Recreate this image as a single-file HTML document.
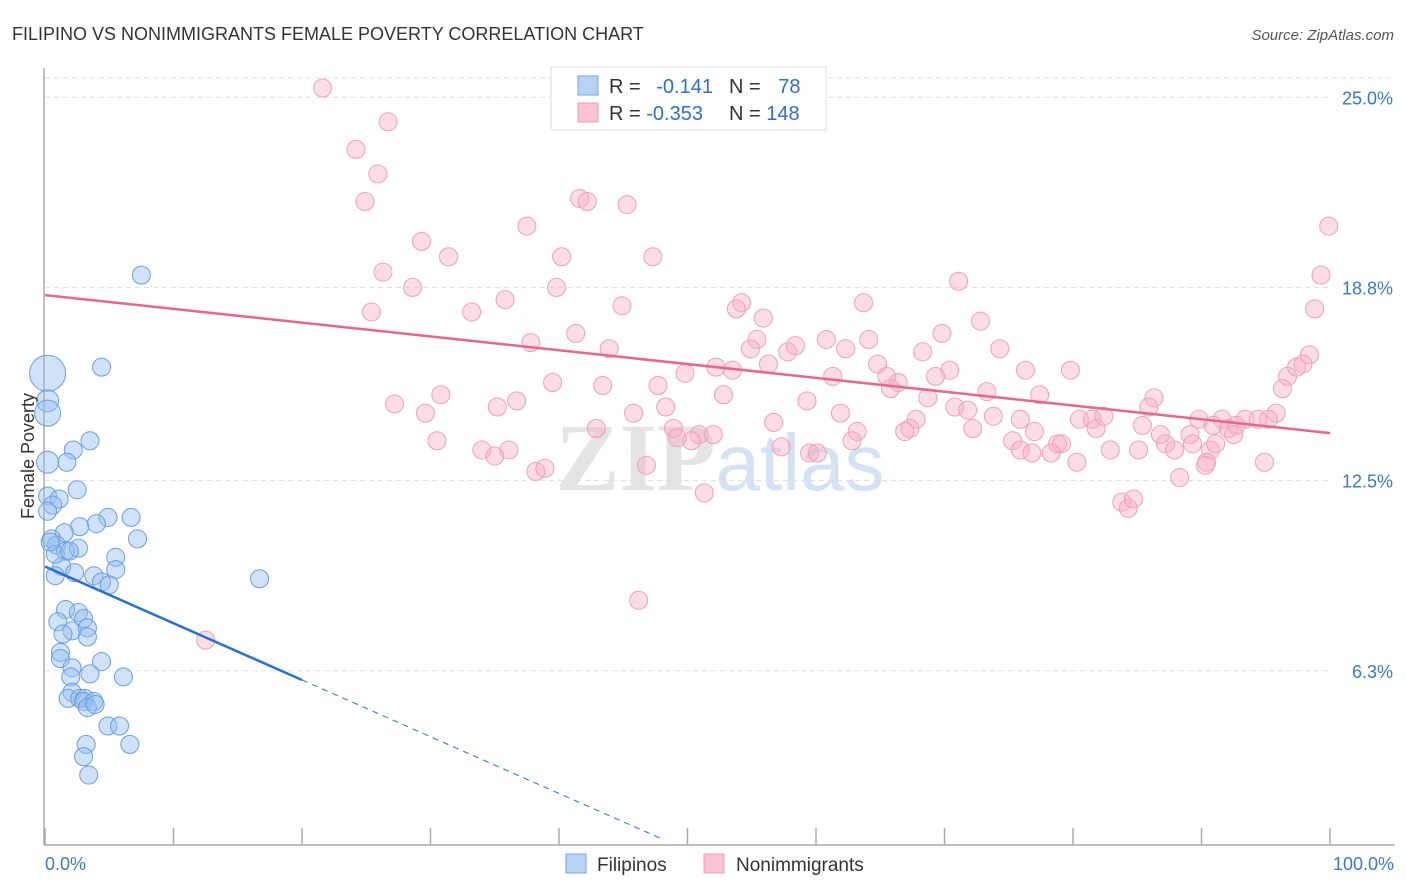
<!DOCTYPE html>
<html><head><meta charset="utf-8"><style>
body{margin:0;background:#fff;font-family:"Liberation Sans",sans-serif;}
#wrap{position:relative;width:1406px;height:892px;overflow:hidden}
</style></head><body>
<div id="wrap">
<svg id="svg" width="1406" height="892" xmlns="http://www.w3.org/2000/svg">
<text x="12" y="40" font-size="18" fill="#333">FILIPINO VS NONIMMIGRANTS FEMALE POVERTY CORRELATION CHART</text>
<text x="1394" y="40" font-size="15" fill="#555" font-style="italic" text-anchor="end">Source: ZipAtlas.com</text>
<text x="720" y="490" font-size="96" fill="#e4e4e4" text-anchor="middle" font-weight="bold" font-family="Liberation Serif,serif">ZIP<tspan fill="#d4e2f4" font-family="Liberation Sans,sans-serif" font-weight="normal" font-size="80">atlas</tspan></text>
<g id="grid"></g>
<g id="axes"></g>
<g id="pts"></g>
<g id="trend"></g>
<text transform="translate(34,456) rotate(-90)" font-size="18" fill="#333" text-anchor="middle">Female Poverty</text>
<text x="45" y="870" font-size="18" fill="#3a78d0">0.0%</text>
<text x="1394" y="870" font-size="18" fill="#3a78d0" text-anchor="end">100.0%</text>
<g>
<rect x="551" y="67" width="275" height="63" fill="#fff" stroke="#ddd"/>
<rect x="578" y="76" width="20" height="19" fill="#b8d2f4" stroke="#7aa6e0"/>
<rect x="578" y="103" width="20" height="19" fill="#fac4d2" stroke="#f0a0b8"/>
<text x="609" y="93" font-size="20" fill="#333">R = <tspan fill="#2f6fcf" dx="10">-0.141</tspan></text>
<text x="729" y="93" font-size="20" fill="#333">N = <tspan fill="#2f6fcf" dx="12">78</tspan></text>
<text x="609" y="120" font-size="20" fill="#333">R = <tspan fill="#2f6fcf">-0.353</tspan></text>
<text x="729" y="120" font-size="20" fill="#333">N = <tspan fill="#2f6fcf">148</tspan></text>
</g>
<g>
<rect x="566" y="854" width="20" height="19" fill="#b8d2f4" stroke="#7aa6e0"/>
<text x="597" y="871" font-size="19" fill="#333">Filipinos</text>
<rect x="704" y="854" width="20" height="19" fill="#fac4d2" stroke="#f0a0b8"/>
<text x="736" y="871" font-size="19" fill="#333">Nonimmigrants</text>
</g>
</svg>
</div>
<script>
const yTicks=[25.0,18.8,12.5,6.3];
const yTickLabels=["25.0%","18.8%","12.5%","6.3%"];
const xTicks=[0,10,20,30,40,50,60,70,80,90,100];
const filX=[7.5,4.4,0.2,0.2,0.2,3.5,2.2,1.7,0.2,2.5,0.2,1.1,0.6,0.2,6.7,7.2,4.9,4.0,2.7,1.5,0.5,0.9,1.6,2.6,1.3,0.8,2.3,3.8,5.5,5.5,4.4,5.0,16.7,1.6,2.6,3.0,1.0,2.1,3.3,1.4,3.3,1.2,1.2,4.4,2.1,3.5,6.1,2.0,2.1,1.8,2.7,3.1,3.0,3.8,3.3,3.9,4.9,5.8,3.2,6.6,3.0,3.4,0.8,1.9,0.4];
const filY=[19.2,16.2,16.0,15.1,14.7,13.8,13.5,13.1,13.1,12.2,12.0,11.9,11.7,11.5,11.3,10.6,11.3,11.1,11.0,10.8,10.6,10.4,10.2,10.3,9.7,9.4,9.5,9.4,10.0,9.6,9.2,9.1,9.3,8.3,8.2,8.0,7.9,7.6,7.7,7.5,7.4,6.9,6.7,6.6,6.4,6.2,6.1,6.1,5.6,5.4,5.4,5.4,5.3,5.3,5.1,5.2,4.5,4.5,3.9,3.9,3.5,2.9,10.1,10.2,10.5];
const filR=[9,9,18,11,13,9,9,9,11,9,9,9,9,9,9,9,9,9,9,9,9,9,9,9,9,9,9,9,9,9,9,9,9,9,9,9,9,9,9,9,9,9,9,9,9,9,9,9,9,9,9,9,9,9,9,9,9,9,9,9,9,9,9,9,9];
const nonX=[21.6,26.7,24.2,25.9,24.9,41.6,42.2,45.3,37.5,29.3,31.4,40.2,47.3,26.3,99.9,99.3,28.6,39.8,35.8,33.2,25.4,44.9,54.2,53.8,63.7,71.1,98.8,55.9,72.8,41.3,37.8,55.4,60.8,64.1,69.8,43.9,54.9,57.8,62.3,68.3,74.3,58.4,98.4,97.9,96.7,97.4,96.3,49.8,52.2,53.5,56.3,64.8,70.4,76.3,79.8,61.3,65.5,69.3,39.5,43.4,47.7,66.4,73.3,30.8,52.8,59.3,65.8,68.7,77.4,86.3,27.2,35.2,36.7,29.6,45.8,48.3,61.9,67.8,70.8,71.8,73.8,75.9,85.9,95.8,95.2,89.8,91.6,93.4,94.4,80.5,81.5,82.4,85.4,92.7,90.9,42.9,48.9,50.9,52.0,56.7,67.3,66.9,77.0,81.8,30.5,50.3,49.2,63.2,62.8,72.2,86.8,89.1,92.1,75.3,78.8,79.1,87.2,90.7,91.1,89.3,92.5,57.3,34.0,36.1,35.0,75.9,76.8,78.3,82.9,85.1,87.9,90.4,59.5,60.1,80.3,90.3,94.9,38.2,38.9,51.3,88.3,83.8,84.3,84.7,46.2,12.5,46.8];
const nonY=[25.3,24.2,23.3,22.5,21.6,21.7,21.6,21.5,20.8,20.3,19.8,19.8,19.8,19.3,20.8,19.2,18.8,18.8,18.4,18.0,18.0,18.2,18.3,18.1,18.3,19.0,18.1,17.8,17.7,17.3,17.0,17.1,17.1,17.1,17.3,16.8,16.8,16.7,16.8,16.7,16.8,16.9,16.6,16.3,15.9,16.2,15.5,16.0,16.2,16.1,16.3,16.3,16.1,16.1,16.1,15.9,15.9,15.9,15.7,15.6,15.6,15.7,15.4,15.3,15.3,15.1,15.5,15.2,15.3,15.2,15.0,14.9,15.1,14.7,14.7,14.9,14.7,14.5,14.9,14.8,14.6,14.5,14.9,14.7,14.5,14.5,14.5,14.5,14.5,14.5,14.5,14.6,14.3,14.3,14.3,14.2,14.2,14.0,14.0,14.4,14.2,14.1,14.1,14.2,13.8,13.8,13.9,14.1,13.8,14.2,14.0,14.0,14.2,13.8,13.7,13.7,13.7,13.5,13.7,13.7,14.0,13.6,13.5,13.5,13.3,13.5,13.4,13.4,13.5,13.5,13.5,13.1,13.4,13.4,13.1,13.0,13.1,12.8,12.9,12.1,12.6,11.8,11.6,11.9,8.6,7.3,13.0];
const filTrend=[9.7,-0.185];
const nonTrend=[18.55,-0.045];
const NS="http://www.w3.org/2000/svg";
const X=v=>45+v*12.85, Y=v=>864-v*30.67;
function mk(tag,attrs,parent){const e=document.createElementNS(NS,tag);for(const k in attrs)e.setAttribute(k,attrs[k]);document.getElementById(parent).appendChild(e);return e;}
const gl=mk('line',{x1:45,x2:1395,y1:78,y2:78,stroke:'#ddd','stroke-dasharray':'5,4'},'grid');


yTicks.forEach((t,i)=>{
 const l=mk('line',{x1:45,x2:1330,y1:Y(t),y2:Y(t),stroke:'#ddd','stroke-dasharray':'5,4'},'grid');
 
 
 const tx=mk('text',{x:1393,y:Y(t)+7,'font-size':18,fill:'#3a78d0','text-anchor':'end'},'grid');
 tx.textContent=yTickLabels[i];
 
 
});
const ax=mk('line',{x1:44,x2:44,y1:68,y2:845,stroke:'#aaa','stroke-width':1.5},'axes');


const bx=mk('line',{x1:44,x2:1395,y1:845,y2:845,stroke:'#aaa','stroke-width':1.5},'axes');


xTicks.forEach(t=>{
 const l=mk('line',{x1:X(t),x2:X(t),y1:828,y2:845,stroke:'#aaa','stroke-width':1.5},'axes');
 
 
});
nonX.forEach((v,i)=>{
 const c=mk('circle',{cx:X(v),cy:Y(nonY[i]),r:9,fill:'rgba(248,175,198,0.42)',stroke:'#f0a0b8','stroke-width':1},'pts');
 
 
});
filX.forEach((v,i)=>{
 const c=mk('circle',{cx:X(v),cy:Y(filY[i]),r:filR[i],fill:'rgba(150,190,240,0.45)',stroke:'#6a9ee0','stroke-width':1},'pts');
 
 
});
const f=x=>filTrend[0]+filTrend[1]*x, n=x=>nonTrend[0]+nonTrend[1]*x;
const t1=mk('line',{x1:X(0),y1:Y(f(0)),x2:X(20),y2:Y(f(20)),stroke:'#2a6fd6','stroke-width':2.5},'trend');


const t2=mk('line',{x1:X(20),y1:Y(f(20)),x2:X(48.2),y2:Y(f(48.2)),stroke:'#2a6fd6','stroke-width':1,'stroke-dasharray':'6,5'},'trend');


const t3=mk('line',{x1:X(0),y1:Y(n(0)),x2:X(100),y2:Y(n(100)),stroke:'#e86590','stroke-width':2.5},'trend');


</script>
</body></html>
